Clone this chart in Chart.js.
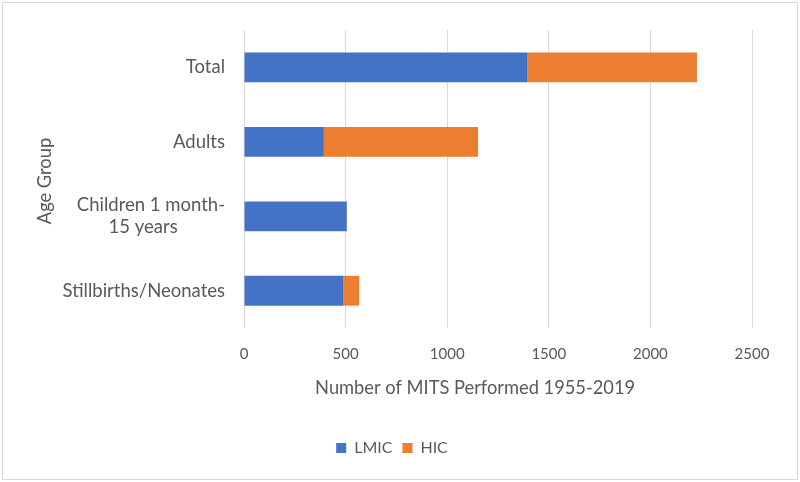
<!DOCTYPE html>
<html>
<head>
<meta charset="utf-8">
<script src="https://cdn.jsdelivr.net/npm/chart.js@4"></script>
<style>
  html, body { margin: 0; padding: 0; background: #fff; }
  #wrap { position: relative; width: 800px; height: 482px; }
</style>
</head>
<body>
<div id="wrap"><canvas id="chart" width="800" height="482"></canvas></div>
<script>
// second line padded so it sits centred under the first, like the original
const categories = ["Total", "Adults", ["Children 1 month-", "15 years" + " ".repeat(10)], "Stillbirths/Neonates"];
const lmicValues = [1393, 393, 506, 490];
const hicValues = [836, 759, 0, 77];
const xTicks = [0, 500, 1000, 1500, 2000, 2500];

const textColor = "#595959";
const fontFamily = "Lato, 'Open Sans', sans-serif";

// frame + axis titles drawn around the chart area
const decorations = {
  id: "decorations",
  afterLayout(chart) {
    // the legend sits a bit right of the canvas centre in the original
    chart.legend.left += 16;
    chart.legend.right += 16;
  },
  beforeDraw(chart) {
    const c = chart.ctx;
    c.save();
    c.fillStyle = "#fff";
    c.fillRect(0, 0, chart.width, chart.height);
    c.strokeStyle = "#d9d9d9";
    c.lineWidth = 1;
    c.strokeRect(2.5, 2.5, chart.width - 5, chart.height - 5);
    c.restore();
  },
  afterDraw(chart) {
    const a = chart.chartArea;
    const c = chart.ctx;
    c.save();
    c.fillStyle = textColor;
    c.font = "18.3px " + fontFamily;
    c.textAlign = "center";
    c.textBaseline = "middle";
    c.fillText("Number of MITS Performed 1955-2019", a.left + (a.right - a.left) * 0.455, a.bottom + 60);
    c.translate(45, (a.top + a.bottom) / 2 + 2);
    c.rotate(-Math.PI / 2);
    c.fillText("Age Group", 0, 0);
    c.restore();
  }
};

new Chart(document.getElementById("chart").getContext("2d"), {
  type: "bar",
  data: {
    labels: categories,
    datasets: [
      { label: "LMIC", data: lmicValues, backgroundColor: "#4472C4" },
      { label: "HIC", data: hicValues, backgroundColor: "#ED7D31" }
    ]
  },
  plugins: [decorations],
  options: {
    indexAxis: "y",
    responsive: false,
    animation: false,
    layout: { padding: { top: 27, right: 48, left: 0, bottom: 16 } },
    plugins: {
      legend: {
        position: "bottom",
        labels: {
          color: textColor,
          font: { family: fontFamily, size: 16 },
          boxWidth: 10,
          boxHeight: 10,
          padding: 10
        }
      },
      tooltip: { enabled: false }
    },
    datasets: { bar: { categoryPercentage: 0.4, barPercentage: 1 } },
    scales: {
      x: {
        stacked: true,
        min: 0,
        max: 2500,
        afterBuildTicks: s => { s.ticks = xTicks.map(v => ({ value: v })); },
        grid: { color: "#d9d9d9", drawTicks: false },
        border: { display: false },
        ticks: {
          color: textColor,
          font: { family: fontFamily, size: 15 },
          padding: 17,
          callback: v => String(v)
        },
        afterFit: s => { s.height = 102; }
      },
      y: {
        stacked: true,
        grid: { display: false, drawTicks: false },
        border: { display: false },
        ticks: { color: textColor, font: { family: fontFamily, size: 18.5 }, padding: 19 },
        afterFit: s => { s.width = 244; }
      }
    }
  }
});
</script>
</body>
</html>
